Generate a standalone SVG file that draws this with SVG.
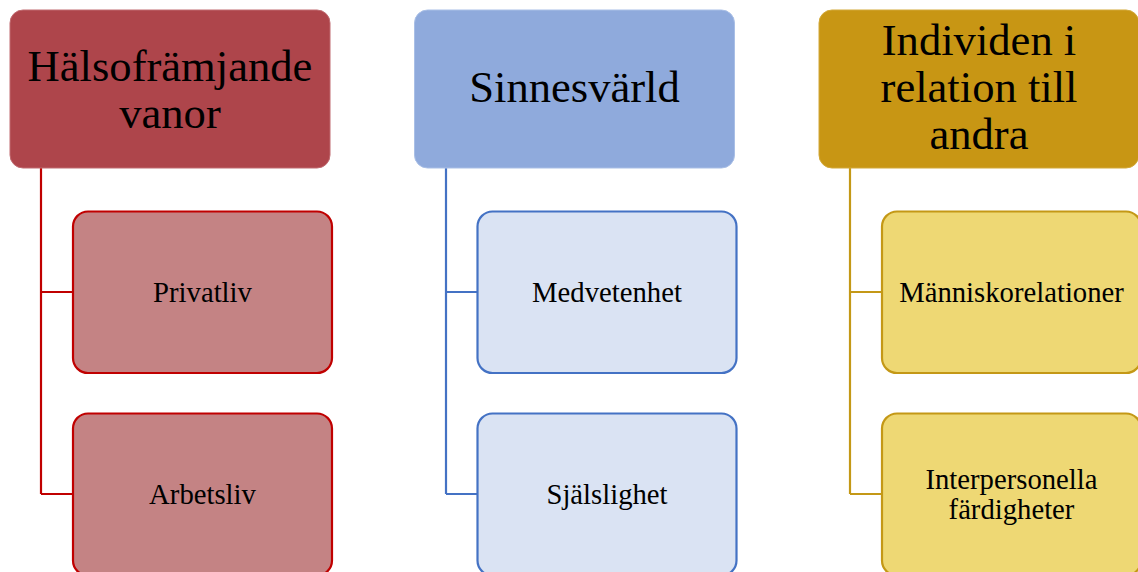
<svg xmlns="http://www.w3.org/2000/svg" width="1138" height="572" viewBox="0 0 1138 572">
<style>
text{font-family:"Liberation Serif","Times New Roman",serif;fill:#000;text-anchor:middle}
.h{font-size:44.6px}
.c{font-size:28.7px}
.hd{stroke-width:1}
.ch{stroke-width:2.2}
.r1{fill:#AE454B;stroke:#C06A70}
.k1{fill:#C48384;stroke:#C00000}
.r2{fill:#8FAADC;stroke:#A9BFE6}
.k2{fill:#DAE3F3;stroke:#4472C4}
.r3{fill:#C89614;stroke:#D2A838}
.k3{fill:#EED874;stroke:#C49816}
.ln{fill:none;stroke-width:2.2}
</style>
<rect width="1138" height="572" fill="#fff"/>
<g id="connectors">
<path class="ln" stroke="#C00000" d="M41 168V494M41 292H73M41 494H73"/>
<path class="ln" stroke="#4472C4" d="M446 168V494M446 292H477M446 494H477"/>
<path class="ln" stroke="#C49816" d="M850 168V494M850 292H882M850 494H882"/>
</g>
<g id="n1"><rect class="hd r1" x="10" y="10" width="320" height="158" rx="13"/><text class="h" x="170" y="81">Hälsofrämjande</text><text class="h" x="170" y="127.5">vanor</text></g>
<g id="n2"><rect class="hd r2" x="414.5" y="10" width="320" height="158" rx="13"/><text class="h" x="574.5" y="102">Sinnesvärld</text></g>
<g id="n3"><rect class="hd r3" x="819" y="10" width="320" height="158" rx="13"/><text class="h" x="979" y="55">Individen i</text><text class="h" x="979" y="102">relation till</text><text class="h" x="979" y="148.5">andra</text></g>
<g id="n1a"><rect class="ch k1" x="73" y="211.5" width="259" height="161.5" rx="15"/><text class="c" x="202.5" y="301.5">Privatliv</text></g>
<g id="n1b"><rect class="ch k1" x="73" y="413.5" width="259" height="162" rx="15"/><text class="c" x="202.5" y="503.5">Arbetsliv</text></g>
<g id="n2a"><rect class="ch k2" x="477.5" y="211.5" width="259" height="161.5" rx="15"/><text class="c" x="607" y="301.5">Medvetenhet</text></g>
<g id="n2b"><rect class="ch k2" x="477.5" y="413.5" width="259" height="162" rx="15"/><text class="c" x="607" y="503.5">Själslighet</text></g>
<g id="n3a"><rect class="ch k3" x="882" y="211.5" width="259" height="161.5" rx="15"/><text class="c" x="1011.5" y="301.5">Människorelationer</text></g>
<g id="n3b"><rect class="ch k3" x="882" y="413.5" width="259" height="162" rx="15"/><text class="c" x="1011.5" y="488.5">Interpersonella</text><text class="c" x="1011.5" y="518.5">färdigheter</text></g>
</svg>
